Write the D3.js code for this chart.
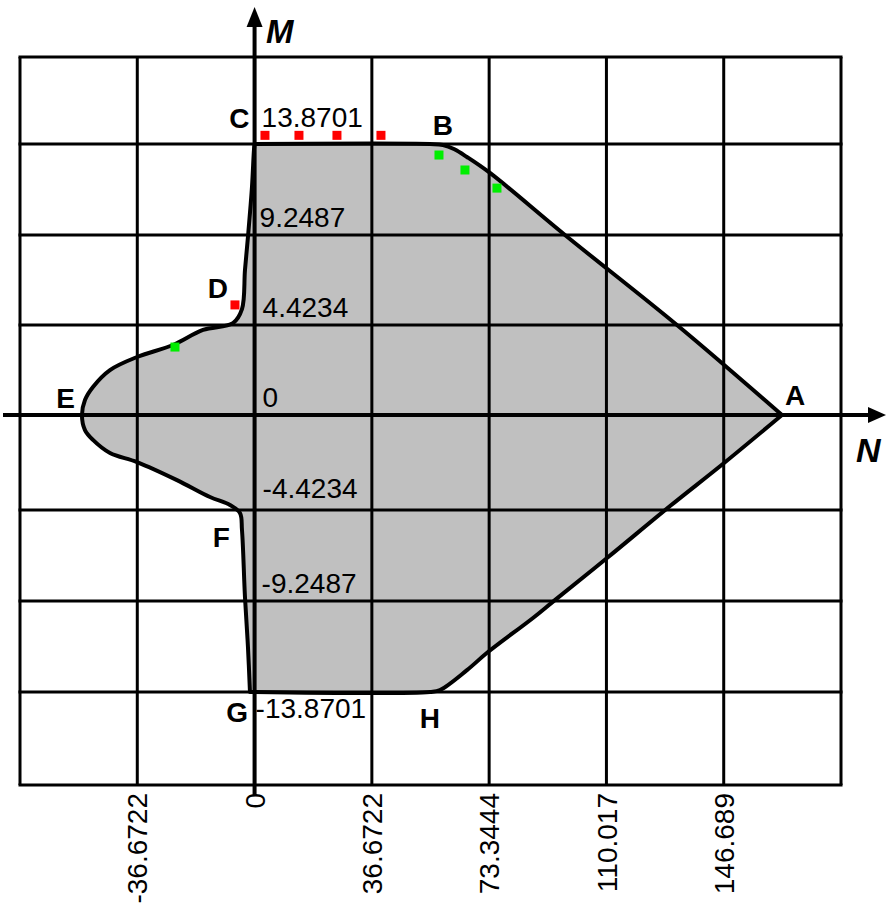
<!DOCTYPE html>
<html>
<head>
<meta charset="utf-8">
<script src="https://cdn.jsdelivr.net/npm/d3@7"></script>
<style>
  body { margin: 0; background: #fff; }
  text { font-family: "Liberation Sans", Arial, sans-serif; }
</style>
</head>
<body>
<div id="container"></div>
<script>
/* CONSTANTS AND GLOBALS */
const width = 887;
const height = 907;

/* DATA */
// grid lines (N = axial force, M = moment)
const nGrid = [-73.3444, -36.6722, 0, 36.6722, 73.3444, 110.017, 146.689, 183.361];
const mGrid = [18.4915, 13.8701, 9.2487, 4.4234, 0, -4.4234, -9.2487, -13.8701, -18.4915];

// tick labels
const nTicks = [-36.6722, 0, 36.6722, 73.3444, 110.017, 146.689];
const nTickLabels = ["-36.6722", "0", "36.6722", "73.3444", "110.017", "146.689"];
const mTicks = [13.8701, 9.2487, 4.4234, 0, -4.4234, -9.2487, -13.8701];
const mTickLabels = ["13.8701", "9.2487", "4.4234", "0", "-4.4234", "-9.2487", "-13.8701"];

// interaction diagram boundary, clockwise from C
const boundaryN = [0, 54.84, 58.91, 62.5, 66.41, 73.6, 97.05, 132.07, 164.9,
  146.8, 129.9, 110.2, 93.9, 87.05, 72.98, 66.41, 57.97, 54.84,
  -1.44, -2.07, -3.0, -3.94, -4.57, -7.69, -13.94, -24.26, -36.77, -45.21, -50.53, -53.03,
  -53.97, -53.03, -50.53, -45.21, -36.77, -25.51, -16.13, -6.75, -3.94, -3.0, -2.07, -0.81, -0.19];
const boundaryM = [13.8701, 13.8701, 13.82, 13.6, 13.21, 12.4, 9.2487, 4.4234, 0,
  -2.235, -4.24, -6.97, -9.2, -10.11, -11.84, -12.76, -13.77, -13.8701,
  -13.8701, -11.58, -9.04, -5.48, -4.58, -4.19, -3.82, -3.03, -2.19, -1.77, -1.16, -0.7,
  0, 0.74, 1.38, 2.21, 2.85, 3.44, 4.18, 4.53, 5.28, 7.37, 9.14, 11.69, 13.57];
// sharp corners of the boundary (C, A, G)
const cornerIndex = [0, 8, 18];

// corner points
const pointNames = ["A", "B", "C", "D", "E", "F", "G", "H"];
const pointN = [164.9, 58.91, 0, -3.94, -53.97, -4.57, -1.44, 54.84];
const pointM = [0, 13.82, 13.8701, 5.28, 0, -4.58, -13.8701, -13.8701];

// markers
const redN = [3.25, 13.88, 25.76, 39.52, -6.13];
const redM = [14.33, 14.33, 14.33, 14.33, 5.5];
const greenN = [57.66, 65.78, 75.79, -24.89];
const greenM = [13.31, 12.55, 11.63, 3.34];

/* SCALES */
const xScale = d3.scaleLinear()
  .domain([nGrid[0], nGrid[nGrid.length - 1]])
  .range([20, 841]);

// grid rows are evenly spaced although the values are not
const yScale = d3.scaleLinear()
  .domain(mGrid)
  .range([57, 144, 235, 325, 415, 510, 601, 692, 785]);

/* HTML ELEMENTS */
const svg = d3.select("#container")
  .append("svg")
  .attr("width", width)
  .attr("height", height);

const boundary = boundaryN.map((n, i) => [n, boundaryM[i]]);
const smooth = d3.line()
  .x(d => xScale(d[0]))
  .y(d => yScale(d[1]))
  .curve(d3.curveCatmullRom.alpha(0.5));

// smooth between corners, keep the corners sharp
const pieces = cornerIndex.map((c, k) => {
  const next = cornerIndex[(k + 1) % cornerIndex.length];
  const pts = next > c ? boundary.slice(c, next + 1) : boundary.slice(c).concat([boundary[0]]);
  return smooth(pts);
});
const shapePath = pieces.map((p, i) => i ? p.replace(/^M[^A-Za-z]*/, "") : p).join("") + "Z";

// filled region
svg.append("path")
  .attr("d", shapePath)
  .attr("fill", "#c0c0c0")
  .attr("stroke", "none");

// grid
const gTop = yScale(mGrid[0]);
const gBottom = yScale(mGrid[mGrid.length - 1]);
const gLeft = xScale(nGrid[0]);
const gRight = xScale(nGrid[nGrid.length - 1]);

svg.selectAll("line.vgrid")
  .data(nGrid)
  .join("line")
  .attr("class", "vgrid")
  .attr("x1", d => xScale(d))
  .attr("x2", d => xScale(d))
  .attr("y1", gTop)
  .attr("y2", gBottom)
  .attr("stroke", "#000")
  .attr("stroke-width", 3);

svg.selectAll("line.hgrid")
  .data(mGrid)
  .join("line")
  .attr("class", "hgrid")
  .attr("x1", gLeft - 1.5)
  .attr("x2", gRight + 1.5)
  .attr("y1", d => yScale(d))
  .attr("y2", d => yScale(d))
  .attr("stroke", "#000")
  .attr("stroke-width", 3);

// boundary outline
svg.append("path")
  .attr("d", shapePath)
  .attr("fill", "none")
  .attr("stroke", "#000")
  .attr("stroke-width", 4)
  .attr("stroke-linejoin", "round");

// axes
const x0 = xScale(0);
const y0 = yScale(0);

svg.append("line")
  .attr("x1", x0).attr("x2", x0)
  .attr("y1", 24).attr("y2", 795)
  .attr("stroke", "#000")
  .attr("stroke-width", 4);

svg.append("path")
  .attr("d", `M${x0},7 L${x0 - 8},27 L${x0 + 8},27 Z`)
  .attr("fill", "#000");

svg.append("line")
  .attr("x1", 3).attr("x2", 872)
  .attr("y1", y0).attr("y2", y0)
  .attr("stroke", "#000")
  .attr("stroke-width", 4);

svg.append("path")
  .attr("d", `M886,${y0} L868,${y0 - 8} L868,${y0 + 8} Z`)
  .attr("fill", "#000");

svg.append("text")
  .attr("x", 266).attr("y", 43)
  .attr("font-size", 33)
  .attr("font-weight", "bold")
  .attr("font-style", "italic")
  .text("M");

svg.append("text")
  .attr("x", 856).attr("y", 462)
  .attr("font-size", 34)
  .attr("font-weight", "bold")
  .attr("font-style", "italic")
  .text("N");

// markers
const markerSize = 9;
svg.selectAll("rect.red")
  .data(redN.map((n, i) => [n, redM[i]]))
  .join("rect")
  .attr("class", "red")
  .attr("x", d => xScale(d[0]) - markerSize / 2)
  .attr("y", d => yScale(d[1]) - markerSize / 2)
  .attr("width", markerSize)
  .attr("height", markerSize)
  .attr("fill", "#ff0000");

svg.selectAll("rect.green")
  .data(greenN.map((n, i) => [n, greenM[i]]))
  .join("rect")
  .attr("class", "green")
  .attr("x", d => xScale(d[0]) - markerSize / 2)
  .attr("y", d => yScale(d[1]) - markerSize / 2)
  .attr("width", markerSize)
  .attr("height", markerSize)
  .attr("fill", "#00ee00");

// M tick labels, written beside the vertical axis
const mLabelDy = [-17, -8, -8, -8, -12, -8, 26];
const mLabelDx = [7, 5, 8, 8, 8, 7, 1];
svg.selectAll("text.mtick")
  .data(mTicks)
  .join("text")
  .attr("class", "mtick")
  .attr("x", (d, i) => x0 + mLabelDx[i])
  .attr("y", (d, i) => yScale(d) + mLabelDy[i])
  .attr("font-size", 28)
  .text((d, i) => mTickLabels[i]);

// N tick labels, rotated under the grid
svg.selectAll("text.ntick")
  .data(nTicks)
  .join("text")
  .attr("class", "ntick")
  .attr("transform", d => `translate(${xScale(d)},${gBottom + 8}) rotate(-90)`)
  .attr("text-anchor", "end")
  .attr("dy", "0.36em")
  .attr("font-size", 28)
  .text((d, i) => nTickLabels[i]);

// point letters
const letterDx = { A: 3, B: 0, C: -5, D: -14, E: -7, F: -10, G: -2, H: 0 };
const letterDy = { A: -10, B: -10, C: -16, D: -11, E: -7, F: 34, G: 30, H: 36 };
const letterAnchor = { A: "start", B: "middle", C: "end", D: "end", E: "end", F: "end", G: "end", H: "middle" };

svg.selectAll("text.point")
  .data(pointNames)
  .join("text")
  .attr("class", "point")
  .attr("x", (d, i) => xScale(pointN[i]) + letterDx[d])
  .attr("y", (d, i) => yScale(pointM[i]) + letterDy[d])
  .attr("text-anchor", d => letterAnchor[d])
  .attr("font-size", 28)
  .attr("font-weight", "bold")
  .text(d => d);
</script>
</body>
</html>
